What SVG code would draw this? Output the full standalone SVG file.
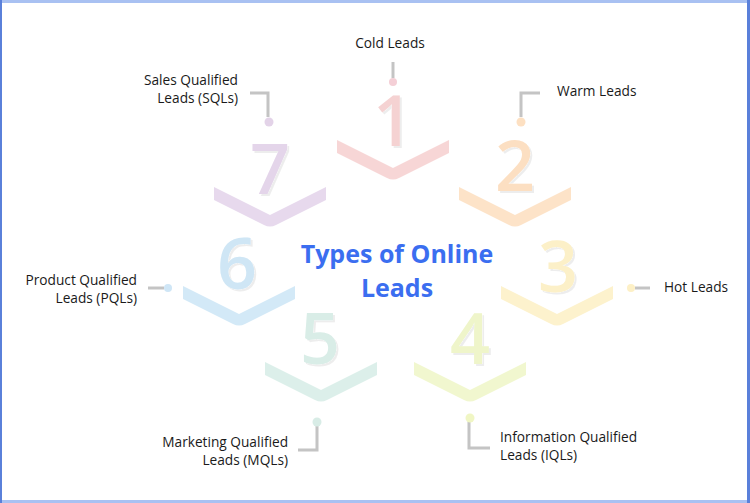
<svg xmlns="http://www.w3.org/2000/svg" width="750" height="503" viewBox="0 0 750 503">
<style>
.lbl{font-family:"Open Sans","Liberation Sans",sans-serif;font-size:13.7px;fill:#1a1a1a}
.num{font-family:"Open Sans","Liberation Sans",sans-serif;font-size:70px;font-weight:600;text-anchor:middle}
.title{font-family:"Open Sans","Liberation Sans",sans-serif;font-size:25px;font-weight:700;fill:#3b6ef0;text-anchor:middle}
.ln{fill:none;stroke:#c4c4c4;stroke-width:3}
</style>
<defs>
<path id="chev" d="M-56,-28 L0,0 L56,-28 L56,-15 L6,10 Q0,13 -6,10 L-56,-15 Z"/>
<filter id="ext" x="-20%" y="-20%" width="140%" height="140%">
<feOffset in="SourceAlpha" dx="2" dy="2" result="o"/>
<feFlood flood-color="#000000" flood-opacity="0.07"/>
<feComposite in2="o" operator="in" result="s"/>
<feMerge><feMergeNode in="s"/><feMergeNode in="SourceGraphic"/></feMerge>
</filter>
</defs>
<rect x="0" y="0" width="750" height="503" fill="#ffffff"/>
<rect x="0" y="0" width="750" height="3" fill="#a9c1f2"/>
<rect x="0" y="500" width="750" height="3" fill="#a9c1f2"/>
<rect x="0" y="0" width="2" height="503" fill="#5a80da"/>
<rect x="747" y="0" width="3" height="503" fill="#5a80da"/>

<g id="node1">
<use href="#chev" x="393" y="168" fill="#f7d6d6"/>
<text class="num" x="393" y="146" fill="#f5d2d2" filter="url(#ext)">1</text>
</g>
<g id="node2">
<use href="#chev" x="515" y="215" fill="#fde3c8"/>
<text class="num" x="515" y="191" fill="#fcdfc2" filter="url(#ext)">2</text>
</g>
<g id="node3">
<use href="#chev" x="557" y="314" fill="#fdf2cd"/>
<text class="num" x="558" y="292" fill="#fcf0c8" filter="url(#ext)">3</text>
</g>
<g id="node4">
<use href="#chev" x="470" y="390" fill="#f1f7cf"/>
<text class="num" x="470" y="364" fill="#eff5ca" filter="url(#ext)">4</text>
</g>
<g id="node5">
<use href="#chev" x="321" y="390" fill="#dcefea"/>
<text class="num" x="320" y="364" fill="#d9ede7" filter="url(#ext)">5</text>
</g>
<g id="node6">
<use href="#chev" x="239" y="314" fill="#d3e9f7"/>
<text class="num" x="237" y="289" fill="#cfe6f5" filter="url(#ext)">6</text>
</g>
<g id="node7">
<use href="#chev" x="270" y="215" fill="#e7d9ed"/>
<text class="num" x="270" y="194" fill="#e4d5ea" filter="url(#ext)">7</text>
</g>

<g id="title">
<text class="title" x="397" y="263">Types of Online</text>
<text class="title" x="397" y="297">Leads</text>
</g>

<g id="connectors">
<path class="ln" d="M393,62 V78"/>
<circle cx="393" cy="82" r="4" fill="#f4cfd6"/>
<path class="ln" d="M250,93 H268 V117"/>
<circle cx="269" cy="122" r="4.5" fill="#e3d3e8"/>
<path class="ln" d="M540,93 H521 V117"/>
<circle cx="521" cy="122" r="4.5" fill="#fde0c2"/>
<path class="ln" d="M148,288 H164"/>
<circle cx="168" cy="288" r="4" fill="#cfe6f6"/>
<path class="ln" d="M635,288 H650"/>
<circle cx="631" cy="288" r="4" fill="#fdf0c6"/>
<path class="ln" d="M298,450 H317 V426"/>
<circle cx="317" cy="422" r="4.5" fill="#d8ece6"/>
<path class="ln" d="M490,448 H469 V422"/>
<circle cx="470" cy="418" r="4.5" fill="#f0f6c4"/>
</g>

<g id="labels">
<text class="lbl" x="390" y="48" text-anchor="middle">Cold Leads</text>
<text class="lbl" x="238" y="85" text-anchor="end">Sales Qualified</text>
<text class="lbl" x="238" y="103" text-anchor="end">Leads (SQLs)</text>
<text class="lbl" x="557" y="96">Warm Leads</text>
<text class="lbl" x="137" y="285" text-anchor="end">Product Qualified</text>
<text class="lbl" x="137" y="303" text-anchor="end">Leads (PQLs)</text>
<text class="lbl" x="664" y="292">Hot Leads</text>
<text class="lbl" x="288" y="447" text-anchor="end">Marketing Qualified</text>
<text class="lbl" x="288" y="465" text-anchor="end">Leads (MQLs)</text>
<text class="lbl" x="500" y="442">Information Qualified</text>
<text class="lbl" x="500" y="460">Leads (IQLs)</text>
</g>
</svg>
